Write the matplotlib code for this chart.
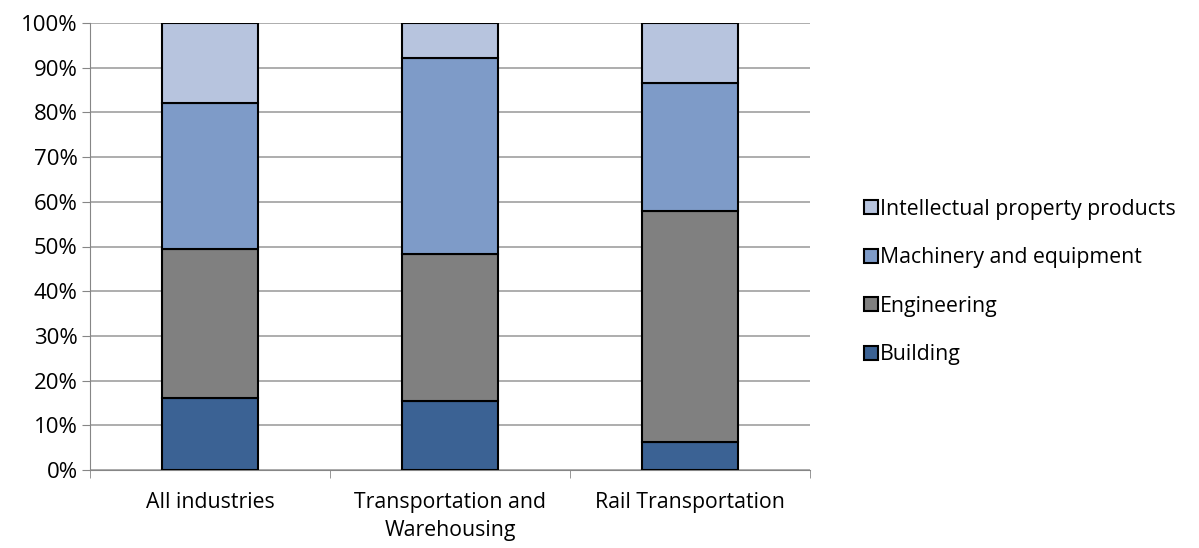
import matplotlib.pyplot as plt
import numpy as np

categories = ["All industries", "Transportation and\nWarehousing", "Rail Transportation"]
series = ["Building", "Engineering", "Machinery and equipment", "Intellectual property products"]
building = [16.1, 15.4, 6.2]
engineering = [33.3, 33.0, 51.7]
machinery = [32.7, 43.7, 28.6]
ip_products = [17.9, 7.9, 13.5]
colors = ["#3B6294", "#808080", "#7E9BC8", "#B7C4DE"]

plt.rcParams['font.family'] = ['Open Sans', 'DejaVu Sans']
fs = 15.3

fig = plt.figure(figsize=(11.99, 5.48), dpi=100)
ax = fig.add_axes([90 / 1199, 1 - 470 / 548, 720 / 1199, 447 / 548])

x = np.arange(len(categories))
bottom = np.zeros(len(categories))
for name, vals, col in zip(series, [building, engineering, machinery, ip_products], colors):
    ax.bar(x, vals, width=0.4, bottom=bottom, color=col, edgecolor="black",
           linewidth=1.5, label=name, zorder=3)
    bottom = bottom + np.array(vals)

ax.set_xlim(-0.5, 2.5)
ax.set_ylim(0, 100)
ax.set_yticks(range(0, 101, 10))
ax.set_yticklabels([f"{v}%" for v in range(0, 101, 10)], fontsize=16)
ax.set_xticks(x)
ax.set_xticklabels(categories, fontsize=fs, va="top", linespacing=1.4)
ax.set_xticks([-0.5, 0.5, 1.5, 2.5], minor=True)
ax.tick_params(axis="x", which="major", length=0, pad=16)
ax.tick_params(axis="x", which="minor", length=6, color="#868686")
ax.tick_params(axis="y", length=6, color="#868686", pad=3)
ax.grid(axis="y", color="#A0A0A0", linewidth=1.2, zorder=0)
for s in ["top", "right"]:
    ax.spines[s].set_visible(False)
ax.spines["left"].set_color("#868686")
ax.spines["bottom"].set_color("#868686")

handles, labels = ax.get_legend_handles_labels()
leg = fig.legend(handles[::-1], labels[::-1], loc="center left",
                 bbox_to_anchor=(845 / 1199, 1 - 282 / 548), frameon=False,
                 fontsize=fs, handlelength=0.65, handleheight=0.65,
                 handletextpad=0.1, labelspacing=1.3)

fig.savefig("out.png", dpi=100)
